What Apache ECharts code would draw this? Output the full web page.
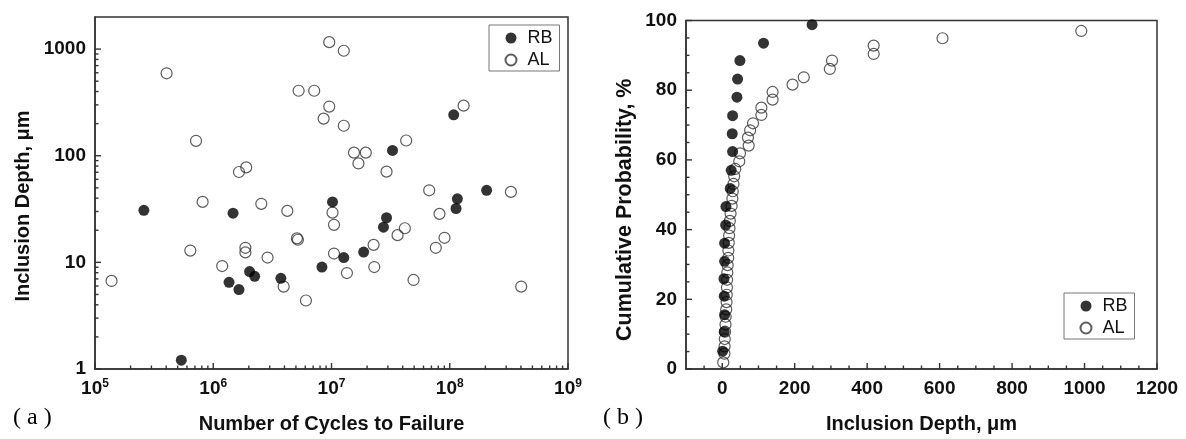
<!DOCTYPE html>
<html><head><meta charset="utf-8">
<script src="https://cdn.jsdelivr.net/npm/echarts@6/dist/echarts.min.js"></script>
<style>html,body{margin:0;padding:0;background:#fff}#c{width:1186px;height:439px}</style>
</head><body><div id="c"></div>
<script>
// (a) Inclusion depth vs number of cycles to failure
const rbCycles = [2.59e5, 1.47e6, 5.37e5, 1.36e6, 1.65e6, 2.03e6, 2.24e6, 3.73e6, 8.3e6, 1.02e7, 1.27e7, 1.87e7, 3.28e7, 2.92e7, 2.75e7, 1.08e8, 1.16e8, 1.13e8, 2.05e8];
const rbDepth  = [30.8, 28.9, 1.21, 6.5, 5.56, 8.19, 7.4, 7.08, 9.04, 36.9, 11.1, 12.5, 112, 26.2, 21.4, 242, 39.4, 32.0, 47.4];
const alCycles = [1.38e5, 4.03e5, 7.15e5, 8.13e5, 6.4e5, 1.65e6, 1.9e6, 2.55e6, 4.23e6, 5.1e6, 5.2e6, 1.87e6, 1.87e6, 1.19e6, 2.88e6, 3.94e6, 6.08e6, 5.27e6, 7.14e6, 9.57e6, 9.57e6, 8.58e6, 1.02e7, 1.05e7, 1.05e7, 1.27e7, 1.27e7, 1.55e7, 1.95e7, 1.69e7, 4.28e7, 1.31e8, 2.92e7, 6.7e7, 3.29e8, 8.19e7, 4.17e7, 3.62e7, 2.27e7, 2.3e7, 1.35e7, 7.62e7, 9.03e7, 4.94e7, 4.02e8];
const alDepth  = [6.7, 593, 138, 36.9, 12.9, 70.4, 77.8, 35.4, 30.4, 16.8, 16.3, 13.7, 12.4, 9.24, 11.1, 5.93, 4.39, 407, 407, 1162, 289, 223, 29.3, 22.5, 12.1, 965, 191, 107, 107, 84.7, 139, 295, 70.9, 47.4, 45.8, 28.5, 20.9, 18.0, 14.6, 9.04, 7.94, 13.7, 17.0, 6.84, 5.93];

// (b) Cumulative probability vs inclusion depth
const rbCdfDepth = [1.2, 5.5, 6.6, 5.5, 4.8, 6.6, 6.6, 9.4, 10.2, 22.1, 24.8, 28.6, 27.6, 28.6, 40.6, 42.4, 48.8, 114, 248];
const rbCdfProb  = [5.1, 10.7, 15.6, 20.9, 25.9, 30.9, 36.1, 41.3, 46.6, 51.8, 57.0, 62.4, 67.5, 72.7, 78.0, 83.2, 88.5, 93.5, 98.8];
const alCdfDepth = [2.8, 6, 6.5, 7, 8, 9, 9.5, 11, 12, 12.5, 13, 13.5, 14, 15, 16.5, 17, 18, 19, 20, 21, 23, 26, 28, 29, 31, 33, 36, 47, 49, 73, 71, 77, 85, 108, 108, 139, 139, 194, 225, 297, 303, 418, 418, 608, 991];
const alCdfProb  = [1.9, 4.4, 6.5, 8.6, 10.7, 12.8, 15.0, 17.1, 19.2, 21.3, 23.4, 25.6, 27.7, 29.8, 31.9, 34.0, 36.2, 38.3, 40.4, 42.5, 44.6, 46.8, 48.9, 51.0, 53.1, 55.3, 57.4, 59.6, 61.9, 64.1, 66.4, 68.5, 70.5, 72.9, 75.0, 77.3, 79.5, 81.6, 83.7, 86.1, 88.5, 90.4, 92.8, 94.9, 97.0];

// tick labels
const leftXTicks = [1e5, 1e6, 1e7, 1e8, 1e9];
const leftYTicks = [1, 10, 100, 1000];
const rightXTicks = [0, 200, 400, 600, 800, 1000, 1200];
const rightYTicks = [0, 20, 40, 60, 80, 100];

// minor tick positions
function logMinor(from, to) {
  const out = [];
  for (let d = from; d < to; d *= 10) for (let m = 2; m <= 9; m++) out.push(m * d);
  return out;
}
function linMinor(from, to, step, majors) {
  const out = [];
  for (let v = from; v <= to; v += step) if (majors.indexOf(v) < 0) out.push(v);
  return out;
}
const leftXMinor = logMinor(1e5, 1e9);
const leftYMinor = logMinor(1, 1000);
const rightXMinor = linMinor(-50, 1150, 50, rightXTicks);
const rightYMinor = linMinor(5, 95, 5, rightYTicks);

const LX = [1e5, 1e9], LY = [1, 2000], RX = [-100, 1200], RY = [0, 100];
const zip = (a, b) => a.map((v, i) => [v, b[i]]);
const FONT = '"Liberation Sans", Arial, sans-serif';
const AX = '#333';
const MAJ = 6, MIN = 3.5;
const lblStyle = { fontFamily: FONT, fontSize: 19, fontWeight: 'bold', color: '#111' };
const nameStyle = { fontFamily: FONT, fontSize: 20, fontWeight: 'bold', color: '#111' };
const line = { show: true, onZero: false, lineStyle: { color: AX, width: 1.5 } };
const supRich = {
  b: { fontFamily: FONT, fontSize: 19, fontWeight: 'bold', color: '#111', lineHeight: 22 },
  s: { fontFamily: FONT, fontSize: 12, fontWeight: 'bold', color: '#111', lineHeight: 14, verticalAlign: 'top' }
};
const plain = v => String(v);
const tagRich = {
  p: { fontFamily: '"Liberation Serif", serif', fontSize: 24, color: '#111' },
  t: { fontFamily: '"Liberation Serif", serif', fontSize: 24, color: '#111', padding: [0, 6, 0, 6] }
};
const legendBase = {
  orient: 'vertical', itemWidth: 23, itemHeight: 11, itemGap: 4,
  padding: [4, 7, 2, 15.5], borderColor: '#777', borderWidth: 1, selectedMode: false,
  textStyle: { fontFamily: FONT, fontSize: 18, color: '#111' },
  data: [{ name: 'RB' }, { name: 'AL' }]
};

// tick marks drawn through the axes' own scales (api.coord)
function tickSeries(dir, gi, values, fixed, len) {
  const data = values.map(v => dir === 'x' ? [v, fixed, len] : [fixed, v, len]);
  return {
    type: 'custom', xAxisIndex: gi, yAxisIndex: gi, silent: true, clip: false, z: 6,
    encode: { x: 0, y: 1 }, data: data,
    renderItem: function (params, api) {
      const p = api.coord([api.value(0), api.value(1)]);
      const l = api.value(2);
      const shape = dir === 'x'
        ? { x1: p[0], y1: p[1], x2: p[0], y2: p[1] - l }
        : { x1: p[0], y1: p[1], x2: p[0] + l, y2: p[1] };
      return { type: 'line', shape: shape, style: { stroke: AX, lineWidth: 1.4 } };
    }
  };
}

const option = {
  backgroundColor: '#fff',
  animation: false,
  grid: [
    { left: 95, top: 17, width: 473, height: 352, show: true, borderColor: AX, borderWidth: 1.5 },
    { left: 686, top: 20.5, width: 471, height: 349.5, show: true, borderColor: AX, borderWidth: 1.5 }
  ],
  xAxis: [
    { gridIndex: 0, type: 'log', min: LX[0], max: LX[1], axisLine: line, splitLine: { show: false }, axisTick: { show: false },
      name: 'Number of Cycles to Failure', nameLocation: 'middle', nameGap: 45, nameTextStyle: nameStyle,
      axisLabel: { customValues: leftXTicks, margin: 9, rich: supRich, formatter: v => '{b|10}{s|' + Math.round(Math.log10(v)) + '}' } },
    { gridIndex: 1, type: 'value', min: RX[0], max: RX[1], axisLine: line, splitLine: { show: false }, axisTick: { show: false },
      name: 'Inclusion Depth, μm', nameLocation: 'middle', nameGap: 45, nameTextStyle: nameStyle,
      axisLabel: Object.assign({ customValues: rightXTicks, margin: 10, formatter: plain }, lblStyle) }
  ],
  yAxis: [
    { gridIndex: 0, type: 'log', min: LY[0], max: LY[1], axisLine: line, splitLine: { show: false }, axisTick: { show: false },
      name: 'Inclusion Depth, μm', nameLocation: 'middle', nameGap: 62,
      nameTextStyle: Object.assign({ padding: [0, 26, 0, 0] }, nameStyle),
      axisLabel: Object.assign({ customValues: leftYTicks, margin: 9, formatter: plain }, lblStyle) },
    { gridIndex: 1, type: 'value', min: RY[0], max: RY[1], interval: 20, axisLine: line, splitLine: { show: false }, axisTick: { show: false },
      name: 'Cumulative Probability, %', nameLocation: 'middle', nameGap: 50,
      nameTextStyle: Object.assign({}, nameStyle, { fontSize: 21.5, padding: [0, 30, 0, 0] }),
      axisLabel: Object.assign({ customValues: rightYTicks, margin: 9, formatter: plain }, lblStyle) }
  ],
  legend: [
    Object.assign({ left: 489, top: 25 }, legendBase),
    Object.assign({ left: 1064, top: 293 }, legendBase)
  ],
  graphic: [
    { type: 'text', left: 13, top: 406, style: { text: '{p|(}{t|a}{p|)}', rich: tagRich } },
    { type: 'text', left: 603, top: 406, style: { text: '{p|(}{t|b}{p|)}', rich: tagRich } }
  ],
  series: [
    { name: 'AL', type: 'scatter', xAxisIndex: 0, yAxisIndex: 0, symbolSize: 11, data: zip(alCycles, alDepth),
      itemStyle: { color: 'rgba(255,255,255,0)', borderColor: '#333', borderWidth: 1.2 }, z: 3 },
    { name: 'RB', type: 'scatter', xAxisIndex: 0, yAxisIndex: 0, symbolSize: 11, data: zip(rbCycles, rbDepth),
      itemStyle: { color: '#000' }, z: 4 },
    { name: 'AL', type: 'scatter', xAxisIndex: 1, yAxisIndex: 1, symbolSize: 11, data: zip(alCdfDepth, alCdfProb),
      itemStyle: { color: 'rgba(255,255,255,0)', borderColor: '#333', borderWidth: 1.2 }, z: 3 },
    { name: 'RB', type: 'scatter', xAxisIndex: 1, yAxisIndex: 1, symbolSize: 11, data: zip(rbCdfDepth, rbCdfProb),
      itemStyle: { color: '#000' }, z: 4 },
    tickSeries('x', 0, leftXTicks, LY[0], MAJ),
    tickSeries('x', 0, leftXMinor, LY[0], MIN),
    tickSeries('y', 0, leftYTicks, LX[0], MAJ),
    tickSeries('y', 0, leftYMinor, LX[0], MIN),
    tickSeries('x', 1, rightXTicks, RY[0], MAJ),
    tickSeries('x', 1, rightXMinor, RY[0], MIN),
    tickSeries('y', 1, rightYTicks, RX[0], MAJ),
    tickSeries('y', 1, rightYMinor, RX[0], MIN)
  ]
};
const chart = echarts.init(document.getElementById('c'), null, { renderer: 'canvas' });
chart.setOption(option);
</script></body></html>
